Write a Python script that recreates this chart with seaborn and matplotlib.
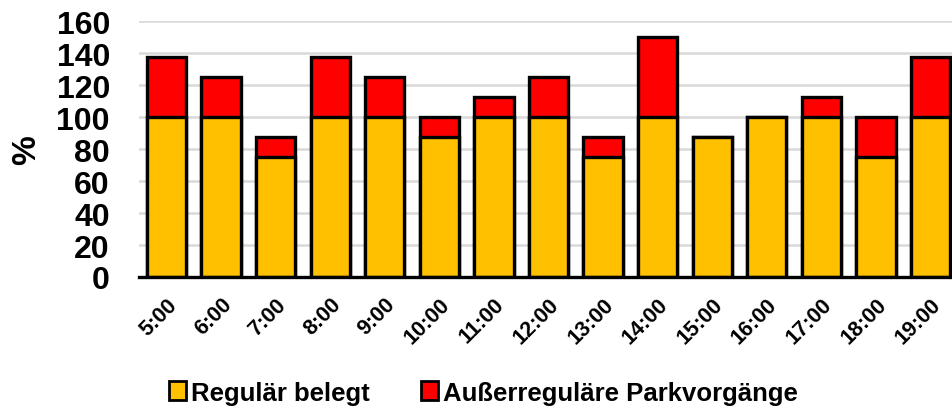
import matplotlib
matplotlib.use("Agg")
import matplotlib.pyplot as plt
from matplotlib.patches import Patch
import pandas as pd
import seaborn as sns

hours = ["5:00", "6:00", "7:00", "8:00", "9:00", "10:00", "11:00", "12:00",
         "13:00", "14:00", "15:00", "16:00", "17:00", "18:00", "19:00"]
regular = [100, 100, 75, 100, 100, 87.5, 100, 100, 75, 100, 87.5, 100, 100, 75, 100]
extra = [37.5, 25, 12.5, 37.5, 25, 12.5, 12.5, 25, 12.5, 50, 0, 0, 12.5, 25, 37.5]
series_names = ["Regulär belegt", "Außerreguläre Parkvorgänge"]
yellow = "#FFC000"
red = "#FF0000"

df = pd.DataFrame({"Uhrzeit": hours, "regular": regular, "extra": extra})
df["total"] = df["regular"] + df["extra"]

sns.set_theme(style="white")
plt.rcParams["font.family"] = ["Liberation Sans", "DejaVu Sans"]
plt.rcParams["font.weight"] = "bold"
plt.rcParams["text.color"] = "black"
plt.rcParams["xtick.color"] = "black"
plt.rcParams["ytick.color"] = "black"
plt.rcParams["axes.labelcolor"] = "black"

fig = plt.figure(figsize=(9.53, 4.10), dpi=100)
ax = fig.add_axes([0.146, 0.322, 0.859, 0.624])

# stacked bars: total height in red, regular share in yellow drawn over it
sns.barplot(data=df, x="Uhrzeit", y="total", color=red, width=0.72,
            edgecolor="black", linewidth=2.4, saturation=1, ax=ax, zorder=3)
sns.barplot(data=df, x="Uhrzeit", y="regular", color=yellow, width=0.72,
            edgecolor="black", linewidth=2.4, saturation=1, ax=ax, zorder=4)

ax.set_ylim(0, 160)
ax.set_yticks(range(0, 161, 20))
ax.set_xlim(-0.5, len(hours) - 0.5)
ax.yaxis.grid(True, color="#D9D9D9", linewidth=1.8, zorder=0)
ax.set_axisbelow(True)
for side in ["top", "right", "left"]:
    ax.spines[side].set_visible(False)
ax.spines["bottom"].set_color("black")
ax.spines["bottom"].set_linewidth(2.4)
ax.spines["bottom"].set_zorder(5)

ax.tick_params(axis="both", length=0)
ax.tick_params(axis="y", labelsize=23, pad=21)
ax.tick_params(axis="x", labelsize=15.5, pad=12)
for lbl in ax.get_xticklabels():
    lbl.set_rotation(45)
    lbl.set_ha("right")
    lbl.set_rotation_mode("anchor")
    lbl.set_fontweight("bold")
for lbl in ax.get_yticklabels():
    lbl.set_fontweight("bold")

ax.set_xlabel("")
ax.set_ylabel("%", fontsize=24, fontweight="bold", labelpad=10)

handles = [Patch(facecolor=yellow, edgecolor="black", linewidth=2.0),
           Patch(facecolor=red, edgecolor="black", linewidth=2.0)]
fig.legend(handles, series_names, loc="center", bbox_to_anchor=(0.507, 0.04),
           ncol=2, frameon=False, prop={"size": 18.5, "weight": "bold"},
           handlelength=0.65, handleheight=0.8, handletextpad=0.2,
           columnspacing=2.0)

fig.savefig("out.png", dpi=100)
